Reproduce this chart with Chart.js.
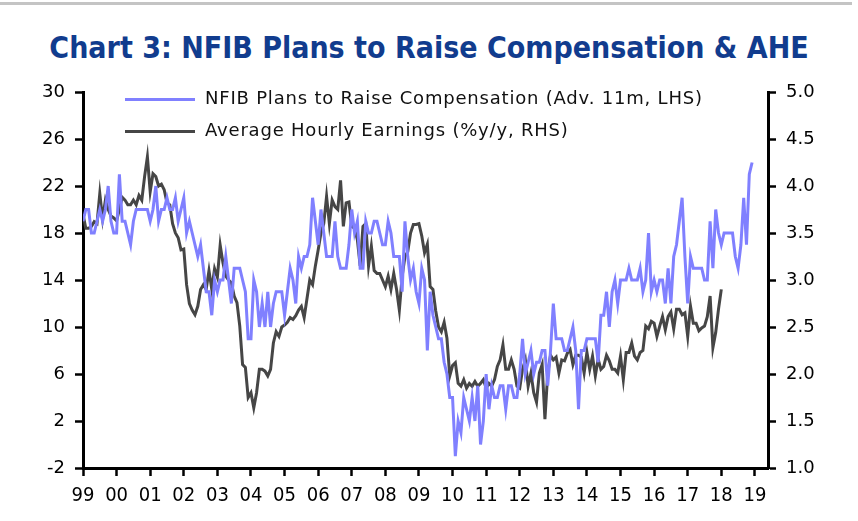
<!DOCTYPE html>
<html>
<head>
<meta charset="utf-8">
<script src="https://cdn.jsdelivr.net/npm/chart.js@4"></script>
<style>
  body { margin: 0; background: #fff; }
  #wrap { position: relative; width: 858px; height: 521px; overflow: hidden; }
  #topline { position: absolute; left: 0; top: 2px; width: 852px; height: 3px; background: #c4c4c4; }
  #title { position: absolute; left: 0; top: 28px; width: 858px; text-align: center;
           font-family: 'Liberation Sans Narrow', 'DejaVu Sans Condensed', sans-serif;
           font-weight: bold; font-size: 30px; color: #113c8e; line-height: 40px; }
  .leg { position: absolute; left: 125px; height: 24px; font-family: 'DejaVu Sans', sans-serif;
         font-size: 18px; letter-spacing: 0.8px; color: #111; line-height: 24px; white-space: nowrap; }
  .leg span { display: inline-block; width: 70px; height: 3px; vertical-align: middle; margin-right: 10px; }
  canvas { position: absolute; left: 0; top: 0; }
</style>
</head>
<body>
<div id="wrap">
  <div id="topline"></div>
  <div id="title">Chart 3: NFIB Plans to Raise Compensation &amp; AHE</div>
  <canvas id="myChart" width="858" height="521"></canvas>
  <div class="leg" style="top:86px"><span style="background:#8080ff"></span>NFIB Plans to Raise Compensation (Adv. 11m, LHS)</div>
  <div class="leg" style="top:118px"><span style="background:#464646"></span>Average Hourly Earnings (%y/y, RHS)</div>
</div>
<script>
// monthly, starting Jan 1999
const startYear = 1999;

// NFIB plans to raise compensation, advanced 11 months (Jan 1999 - Dec 2018)
const nfib = [
  19, 20, 20, 18, 18, 19, 20, 19, 20, 22, 19, 18,
  18, 23, 19, 19, 18, 17, 19, 20, 20, 20, 20, 20,
  19, 20, 22, 19, 20, 20, 21, 20, 20, 21, 19, 20,
  21, 18, 19, 18, 17, 16, 17, 15, 13, 13, 11, 14,
  13, 14, 14, 16, 14, 12, 15, 15, 15, 14, 13, 9,
  9, 14, 13, 10, 12, 10, 13, 10, 12, 13, 13, 13,
  11, 13, 15, 14, 12, 16, 15, 16, 16, 17, 21, 19,
  17, 20, 18, 16, 16, 16, 19, 16, 15, 15, 15, 17,
  20, 18, 19, 15, 15, 19, 18, 18, 19, 19, 18, 17,
  17, 19, 18, 16, 16, 16, 13, 19, 16, 14, 15, 13,
  12, 15, 14, 8, 13, 11, 10, 9, 9, 7, 6, 4,
  4, -1, 2, 1, 4, 3, 2, 4, 2, 5, 0, 2,
  6, 3, 5, 4, 4, 5, 5, 3, 5, 5, 4, 4,
  6, 9, 6, 7, 8, 6, 7, 7, 8, 8, 5, 8,
  12, 9, 9, 9, 8, 8, 9, 10, 8, 3, 8, 8,
  9, 9, 9, 9, 7, 11, 11, 13, 10, 13, 14, 12,
  14, 14, 14, 15, 14, 14, 14, 15, 13, 14, 18, 13,
  14, 13, 14, 14, 12, 15, 12, 16, 17, 19, 21, 16,
  12, 16, 15, 15, 15, 15, 14, 14, 19, 15, 20, 18,
  17, 18, 18, 18, 18, 16, 15, 17, 21, 17, 23, 24
];

// Average hourly earnings, %y/y (Jan 1999 - Jan 2018)
const ahe = [
  3.70, 3.55, 3.55, 3.57, 3.62, 3.60, 3.92, 3.65, 3.85, 3.75, 3.68, 3.66,
  3.63, 3.75, 3.88, 3.85, 3.80, 3.80, 3.85, 3.80, 3.90, 3.85, 4.10, 4.31,
  3.94, 4.13, 4.10, 4.00, 4.02, 3.96, 3.82, 3.80, 3.60, 3.50, 3.45, 3.32,
  3.33, 2.95, 2.75, 2.68, 2.63, 2.72, 2.90, 2.95, 2.90, 3.10, 2.90, 3.12,
  3.03, 3.37, 3.18, 3.04, 3.00, 2.97, 2.83, 2.76, 2.51, 2.10, 2.07, 1.75,
  1.80, 1.64, 1.80, 2.05, 2.05, 2.03, 1.98, 2.05, 2.33, 2.45, 2.40, 2.50,
  2.52, 2.55, 2.60, 2.58, 2.62, 2.68, 2.72, 2.60, 2.80, 3.00, 2.95, 3.15,
  3.32, 3.50, 3.60, 3.89, 3.60, 3.85, 3.78, 3.75, 4.06, 3.57, 3.82, 3.83,
  3.57, 3.55, 3.43, 3.15, 3.57, 3.60, 3.15, 3.36, 3.10, 3.07, 3.07, 3.00,
  2.93, 3.04, 2.90, 3.07, 2.90, 2.68, 3.04, 3.25, 3.30, 3.50, 3.59, 3.59,
  3.60, 3.47, 3.29, 3.38, 2.93, 2.90, 2.67, 2.50, 2.45, 2.55, 2.38, 1.98,
  2.09, 2.12, 1.90, 1.87, 1.94, 1.85, 1.90, 1.87, 1.92, 1.87, 1.90, 1.94,
  1.85, 1.90, 1.87, 1.94, 2.08, 2.15, 2.31, 2.05, 2.05, 2.15, 2.05, 1.87,
  1.85, 2.05, 2.15, 1.87, 2.01, 1.80, 1.70, 2.01, 2.10, 1.52, 2.01, 2.20,
  2.15, 2.18, 2.01, 2.15, 2.14, 2.22, 2.26, 2.10, 2.20, 2.20, 2.18, 2.01,
  2.23, 2.05, 2.19, 1.98, 2.16, 2.05, 2.08, 2.20, 2.14, 2.05, 2.05, 2.01,
  2.19, 1.94, 2.23, 2.23, 2.33, 2.19, 2.15, 2.23, 2.25, 2.51, 2.48, 2.56,
  2.54, 2.40, 2.51, 2.61, 2.47, 2.61, 2.66, 2.48, 2.69, 2.69, 2.63, 2.65,
  2.40, 2.72, 2.54, 2.54, 2.46, 2.49, 2.51, 2.61, 2.83, 2.28, 2.44, 2.69,
  2.90
];

const leftTicks = [-2, 2, 6, 10, 14, 18, 22, 26, 30];
const rightTicks = [1.0, 1.5, 2.0, 2.5, 3.0, 3.5, 4.0, 4.5, 5.0];
const yearTicks = [1999, 2000, 2001, 2002, 2003, 2004, 2005, 2006, 2007, 2008, 2009,
                   2010, 2011, 2012, 2013, 2014, 2015, 2016, 2017, 2018, 2019];
const yearLabels = ['99', '00', '01', '02', '03', '04', '05', '06', '07', '08', '09',
                    '10', '11', '12', '13', '14', '15', '16', '17', '18', '19'];

function toPoints(arr) {
    return arr.map((v, i) => ({ x: startYear + i / 12, y: v }));
}

const axisGrid = {
    drawOnChartArea: false,
    drawTicks: true,
    tickLength: 8,
    tickWidth: 2.5,
    tickColor: '#000'
};

const ctx = document.getElementById('myChart');
new Chart(ctx, {
    type: 'line',
    data: {
        datasets: [{
            label: 'NFIB Plans to Raise Compensation (Adv. 11m, LHS)',
            data: toPoints(nfib),
            yAxisID: 'y',
            borderColor: '#8080ff',
            borderWidth: 3,
            pointRadius: 0,
            tension: 0
        }, {
            label: 'Average Hourly Earnings (%y/y, RHS)',
            data: toPoints(ahe),
            yAxisID: 'y1',
            borderColor: '#464646',
            borderWidth: 3,
            pointRadius: 0,
            tension: 0
        }]
    },
    options: {
        responsive: false,
        animation: false,
        events: [],
        layout: { padding: { top: 92, left: 0, right: 0, bottom: 0 } },
        plugins: { legend: { display: false }, title: { display: false }, tooltip: { enabled: false } },
        scales: {
            x: {
                type: 'linear',
                min: 1999,
                max: 2019.39,
                afterBuildTicks: s => { s.ticks = yearTicks.map(v => ({ value: v })); },
                afterFit: s => { s.height = 53; },
                ticks: {
                    autoSkip: false,
                    maxRotation: 0,
                    padding: 8,
                    color: '#000',
                    font: { family: "'Liberation Sans Narrow', 'DejaVu Sans Condensed', sans-serif", size: 20 },
                    callback: (v) => yearLabels[yearTicks.indexOf(v)]
                },
                grid: axisGrid,
                border: { color: '#000', width: 3 }
            },
            y: {
                position: 'left',
                min: -2,
                max: 30,
                afterBuildTicks: s => { s.ticks = leftTicks.map(v => ({ value: v })); },
                afterFit: s => { s.width = 83; },
                ticks: {
                    padding: 10,
                    color: '#000',
                    font: { family: "'DejaVu Sans', sans-serif", size: 18 }
                },
                grid: axisGrid,
                border: { color: '#000', width: 3 }
            },
            y1: {
                position: 'right',
                min: 1,
                max: 5,
                afterBuildTicks: s => { s.ticks = rightTicks.map(v => ({ value: v })); },
                afterFit: s => { s.width = 90; },
                ticks: {
                    padding: 10,
                    color: '#000',
                    font: { family: "'DejaVu Sans', sans-serif", size: 18 },
                    callback: v => v.toFixed(1)
                },
                grid: axisGrid,
                border: { color: '#000', width: 3 }
            }
        }
    }
});
</script>
</body>
</html>
